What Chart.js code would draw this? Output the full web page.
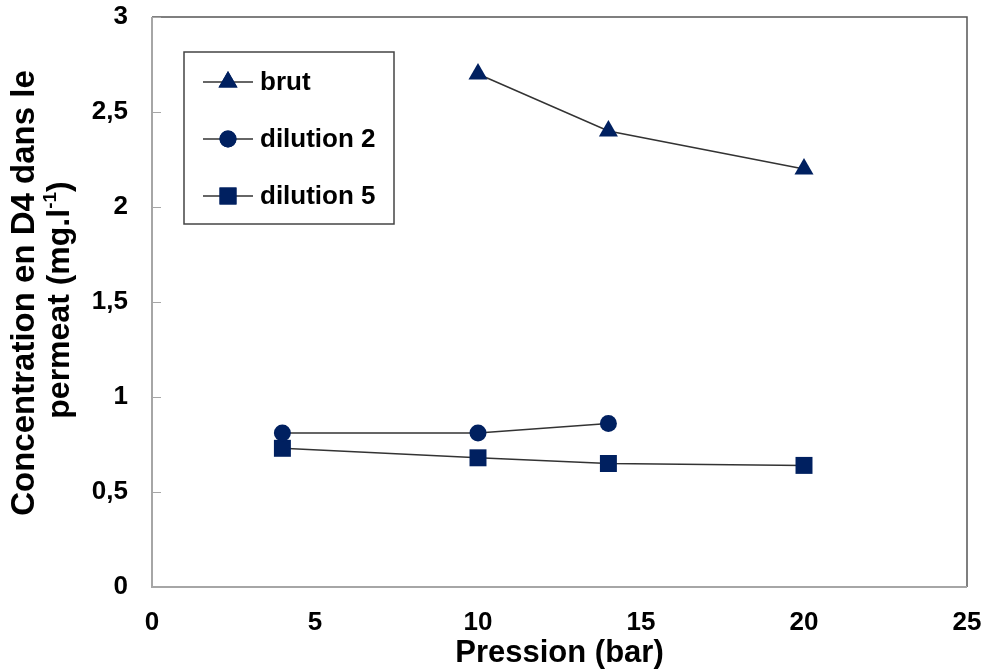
<!DOCTYPE html>
<html>
<head>
<meta charset="utf-8">
<script src="https://cdn.jsdelivr.net/npm/chart.js@4/dist/chart.umd.min.js"></script>
<style>
html,body{margin:0;padding:0;background:#fff;}
#wrap{width:985px;height:672px;position:relative;}
</style>
</head>
<body>
<div id="wrap"><canvas id="c" width="985" height="672"></canvas></div>
<script>
const seriesNames = ["brut", "dilution 2", "dilution 5"];
const brutX = [10, 14, 20];
const brutY = [2.7, 2.4, 2.2];
const dil2X = [4, 10, 14];
const dil2Y = [0.81, 0.81, 0.86];
const dil5X = [4, 10, 14, 20];
const dil5Y = [0.73, 0.68, 0.65, 0.64];
const xTicks = [0, 5, 10, 15, 20, 25];
const yTicks = [0, 0.5, 1, 1.5, 2, 2.5, 3];
const xTitle = "Pression (bar)";
const yTitleLine1 = "Concentration en D4 dans le";
const yTitleLine2 = ["permeat (mg.l", "-1", ")"];

const NAVY = "#002060";
const LINE = "#333333";
const FONT = "Liberation Sans, Arial, sans-serif";

function pts(xs, ys){ return xs.map((x,i)=>({x:x, y:ys[i]})); }

const styles = [
  {pointStyle:'triangle', pointRadius:11},
  {pointStyle:'circle', pointRadius:8.5},
  {pointStyle:'rect', pointRadius:12}
];

const datasets = [
  pts(brutX, brutY), pts(dil2X, dil2Y), pts(dil5X, dil5Y)
].map((d,i)=>({
  label: seriesNames[i],
  data: d,
  borderColor: LINE,
  borderWidth: 1.5,
  backgroundColor: NAVY,
  pointBackgroundColor: NAVY,
  pointBorderColor: NAVY,
  pointBorderWidth: 0,
  pointStyle: styles[i].pointStyle,
  pointRadius: styles[i].pointRadius,
  pointHoverRadius: styles[i].pointRadius,
  showLine: true,
  tension: 0
}));

const framePlugin = {
  id: 'frame',
  afterDraw(chart){
    const {ctx, chartArea:a, scales} = chart;
    ctx.save();
    // top and right border
    ctx.strokeStyle = "#555555";
    ctx.lineWidth = 1.5;
    ctx.beginPath();
    ctx.moveTo(a.left, a.top);
    ctx.lineTo(a.right, a.top);
    ctx.lineTo(a.right, a.bottom);
    ctx.stroke();
    // left and bottom axis lines
    ctx.strokeStyle = "#a6a6a6";
    ctx.lineWidth = 2;
    ctx.beginPath();
    ctx.moveTo(a.left, a.top);
    ctx.lineTo(a.left, a.bottom);
    ctx.lineTo(a.right, a.bottom);
    ctx.stroke();
    // inward y ticks
    ctx.lineWidth = 1;
    yTicks.forEach(v=>{
      const y = Math.round(scales.y.getPixelForValue(v)) + 0.5;
      ctx.beginPath();
      ctx.moveTo(a.left, y);
      ctx.lineTo(a.left + 9, y);
      ctx.stroke();
    });
    // legend box
    const lx = 184, ly = 52, lw = 210, lh = 172;
    ctx.fillStyle = "#ffffff";
    ctx.fillRect(lx, ly, lw, lh);
    ctx.strokeStyle = "#444444";
    ctx.lineWidth = 1.5;
    ctx.strokeRect(lx, ly, lw, lh);
    const rows = [82, 139, 196];
    chart.data.datasets.forEach((ds, i)=>{
      const y = rows[i];
      ctx.strokeStyle = LINE;
      ctx.lineWidth = 1.5;
      ctx.beginPath();
      ctx.moveTo(203, y);
      ctx.lineTo(253, y);
      ctx.stroke();
      ctx.fillStyle = NAVY;
      Chart.helpers.drawPoint(ctx, {pointStyle: ds.pointStyle, radius: ds.pointRadius, borderWidth: 0}, 228, y);
      ctx.fill();
      ctx.fillStyle = "#000000";
      ctx.font = "bold 26px " + FONT;
      ctx.textAlign = "left";
      ctx.textBaseline = "middle";
      ctx.fillText(ds.label, 260, y + 1);
    });
    // y title (two lines, rotated)
    ctx.save();
    ctx.fillStyle = "#000";
    ctx.textBaseline = "alphabetic";
    ctx.translate(0, 293);
    ctx.rotate(-Math.PI/2);
    ctx.font = "bold 33px " + FONT;
    ctx.textAlign = "center";
    ctx.fillText(yTitleLine1, 0, 34);
    // second line with superscript, centred at screen y = 300
    ctx.textAlign = "left";
    const fMain = "bold 32px " + FONT, fSup = "bold 19px " + FONT;
    ctx.font = fMain; const w1 = ctx.measureText(yTitleLine2[0]).width;
    ctx.font = fSup;  const w2 = ctx.measureText(yTitleLine2[1]).width;
    ctx.font = fMain; const w3 = ctx.measureText(yTitleLine2[2]).width;
    let x0 = -7 - (w1 + w2 + w3) / 2;
    ctx.font = fMain; ctx.fillText(yTitleLine2[0], x0, 69);
    ctx.font = fSup;  ctx.fillText(yTitleLine2[1], x0 + w1, 56);
    ctx.font = fMain; ctx.fillText(yTitleLine2[2], x0 + w1 + w2, 69);
    ctx.restore();
    ctx.restore();
  }
};

new Chart(document.getElementById('c'), {
  type: 'scatter',
  data: { datasets },
  options: {
    responsive: false,
    animation: false,
    devicePixelRatio: 1,
    layout: { padding: { top: 17, right: 18, left: 0, bottom: 0 } },
    plugins: { legend: { display: false }, tooltip: { enabled: false } },
    scales: {
      x: {
        type: 'linear', min: 0, max: 25,
        afterBuildTicks(s){ s.ticks = xTicks.map(v=>({value:v})); },
        afterFit(s){ s.height = 85; },
        grid: { display: true, drawOnChartArea: false, drawTicks: true, tickLength: 20, color: 'rgba(0,0,0,0)' },
        border: { display: false },
        ticks: { color:'#000', font:{family:FONT, size:26, weight:'bold'}, padding: 0, maxRotation:0,
                 callback:(v)=>String(v) },
        title: { display: true, text: xTitle, color:'#000', font:{family:FONT, size:31, weight:'bold'}, padding:{top:0,bottom:0} }
      },
      y: {
        type: 'linear', min: 0, max: 3,
        afterBuildTicks(s){ s.ticks = yTicks.map(v=>({value:v})); },
        afterFit(s){ s.width = 152; },
        grid: { display: true, drawOnChartArea: false, drawTicks: true, tickLength: 24, color: 'rgba(0,0,0,0)' },
        border: { display: false },
        ticks: { color:'#000', font:{family:FONT, size:26, weight:'bold'}, padding: 0,
                 callback:(v)=>String(v).replace('.', ',') }
      }
    }
  },
  plugins: [framePlugin]
});
</script>
</body>
</html>
